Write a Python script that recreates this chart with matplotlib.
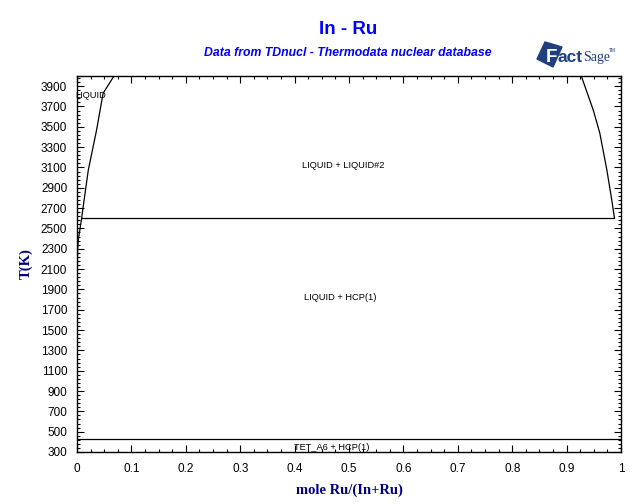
import matplotlib.pyplot as plt
from matplotlib.patches import Polygon
from matplotlib.ticker import AutoMinorLocator

# phase boundaries
liq_left_x = [0.0004, 0.001, 0.0024, 0.0086, 0.0105, 0.0208, 0.036, 0.048, 0.068]
liq_left_T = [1924, 2288, 2386, 2602, 2681, 3075, 3469, 3830, 4000]
liq_right_x = [0.927, 0.949, 0.961, 0.974, 0.983, 0.988]
liq_right_T = [4000, 3665, 3439, 3075, 2780, 2602]

monotectic_T = 2602
monotectic_x = [0.0086, 0.988]
eutectic_T = 425
eutectic_x = [0.0, 1.0]

region_labels = ["LIQUID", "LIQUID + LIQUID#2", "LIQUID + HCP(1)", "TET_A6 + HCP(1)"]
region_x = [-0.004, 0.489, 0.483, 0.469]
region_T = [3806, 3117, 1825, 345]
region_ha = ["left", "center", "center", "center"]

x_ticks = [0, 0.1, 0.2, 0.3, 0.4, 0.5, 0.6, 0.7, 0.8, 0.9, 1]
x_ticklabels = ["0", "0.1", "0.2", "0.3", "0.4", "0.5", "0.6", "0.7", "0.8", "0.9", "1"]
y_ticks = list(range(300, 4000, 200))

W, H = 640, 504
fig = plt.figure(figsize=(W / 100, H / 100), dpi=100)
ax = fig.add_axes([77 / W, 1 - 452 / H, (621 - 77) / W, (452 - 76) / H])

line_kw = dict(color="black", linewidth=0.9)
ax.plot(liq_left_x, liq_left_T, **line_kw)
ax.plot(liq_right_x, liq_right_T, **line_kw)
ax.plot(monotectic_x, [monotectic_T, monotectic_T], **line_kw)
ax.plot(eutectic_x, [eutectic_T, eutectic_T], **line_kw)

for lab, x, t, ha in zip(region_labels, region_x, region_T, region_ha):
    ax.text(x, t, lab, ha=ha, va="center", fontsize=6.7, family="Liberation Sans")

ax.set_xlim(0, 1)
ax.set_ylim(300, 4000)
ax.set_xticks(x_ticks)
ax.set_xticklabels(x_ticklabels)
ax.set_yticks(y_ticks)
ax.xaxis.set_minor_locator(AutoMinorLocator(4))
ax.yaxis.set_minor_locator(AutoMinorLocator(5))
ax.tick_params(which="both", direction="in", top=True, right=True, width=0.8)
ax.tick_params(which="major", length=5, labelsize=8.5)
ax.tick_params(axis="x", which="major", pad=8)
ax.tick_params(axis="y", which="major", pad=7)
ax.tick_params(which="minor", length=2.5)
for lbl in ax.get_xticklabels() + ax.get_yticklabels():
    lbl.set_family("Liberation Sans")
for sp in ax.spines.values():
    sp.set_linewidth(1.0)

ax.set_xlabel("mole Ru/(In+Ru)", fontsize=10.5, fontweight="bold",
              family="Liberation Serif", color="#000080", labelpad=6)
ax.set_ylabel("T(K)", fontsize=10.5, fontweight="bold",
              family="Liberation Serif", color="#000080", labelpad=6)

fig.text(348 / W, 1 - 30 / H, "In - Ru", ha="center", va="center", fontsize=13.5,
         fontweight="bold", family="Liberation Sans", color="#0000FF")
fig.text(348 / W, 1 - 53 / H, "Data from TDnucl - Thermodata nuclear database",
         ha="center", va="center", fontsize=8.8, fontweight="bold", style="italic",
         family="Liberation Sans", color="#0000FF")

# FactSage logo
logo_col = "#1F3F7F"
sq = [(545, 42), (562, 47), (553, 67), (537, 59)]
fig.patches.append(Polygon([(px / W, 1 - py / H) for px, py in sq], closed=True,
                           transform=fig.transFigure, color=logo_col))
fig.text(546 / W, 1 - 57 / H, "F", ha="left", va="center", fontsize=13.5,
         fontweight="bold", family="Liberation Sans", color="white")
fig.text(557 / W, 1 - 58 / H, "act", ha="left", va="center", fontsize=12.5,
         fontweight="bold", family="Liberation Sans", color=logo_col)
fig.text(583 / W, 1 - 57 / H, "Sage", ha="left", va="center", fontsize=10,
         family="Liberation Serif", color=logo_col)
fig.text(609 / W, 1 - 50 / H, "TM", ha="left", va="center", fontsize=3.5,
         family="Liberation Sans", color=logo_col)

fig.savefig("out.png", dpi=100)
